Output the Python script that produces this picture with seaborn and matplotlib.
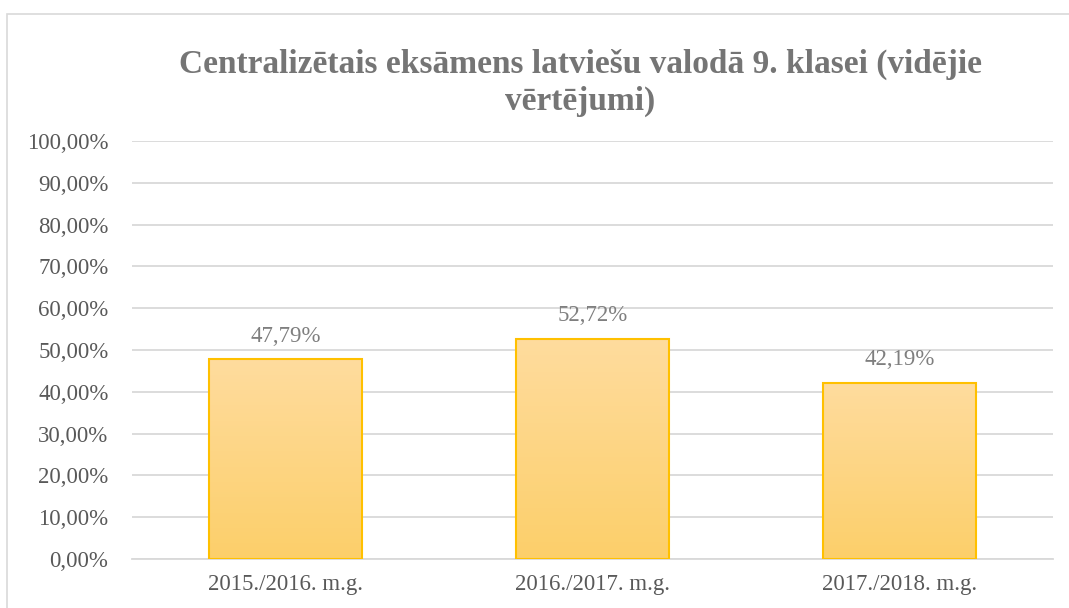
import numpy as np
import pandas as pd
import matplotlib.pyplot as plt
import matplotlib.patches as mpatches
from matplotlib.colors import LinearSegmentedColormap
import seaborn as sns

years = ["2015./2016. m.g.", "2016./2017. m.g.", "2017./2018. m.g."]
scores = [47.79, 52.72, 42.19]
labels = ["47,79%", "52,72%", "42,19%"]
yticks = [0, 10, 20, 30, 40, 50, 60, 70, 80, 90, 100]
title = "Centraliz\u0113tais eks\u0101mens latvie\u0161u valod\u0101 9. klasei (vid\u0113jie\nv\u0113rt\u0113jumi)"

df = pd.DataFrame({"year": years, "score": scores})

sns.set_style("white")
plt.rcParams['font.family'] = ['Liberation Serif', 'DejaVu Serif']

fig = plt.figure(figsize=(10.69, 6.08), dpi=100)
ax = fig.add_axes([132 / 1069, 1 - 559 / 608, (1053 - 132) / 1069, (559 - 141) / 608])

# chart border like the office frame
fig.patches.append(mpatches.Rectangle((7 / 1069, -0.05), 1.2, 1 - 14 / 608 + 0.05,
                                      transform=fig.transFigure, fill=False,
                                      edgecolor='#d9d9d9', linewidth=1.2))

sns.barplot(data=df, x="year", y="score", color="#fdd57f", edgecolor="#ffc000",
            linewidth=1.5, width=0.5, ax=ax, zorder=3)

# vertical gradient inside each bar
cmap = LinearSegmentedColormap.from_list("gold", ["#fccf6a", "#ffdc9e"])
grad = np.linspace(0, 1, 256).reshape(-1, 1)
for bar in ax.patches:
    x0, y0 = bar.get_x(), bar.get_y()
    w, h = bar.get_width(), bar.get_height()
    im = ax.imshow(grad, cmap=cmap, origin='lower', aspect='auto',
                   extent=[x0, x0 + w, y0, y0 + h], zorder=3.5)
    im.set_clip_path(bar)
    bar.set_facecolor('none')
    bar.set_zorder(4)

for i, (v, t) in enumerate(zip(scores, labels)):
    ax.text(i, v + 3.0, t, ha='center', va='bottom', fontsize=16.5, color='#7f7f7f')

ax.set_xlim(-0.5, 2.5)
ax.set_ylim(0, 100)
ax.set_yticks(yticks)
ax.set_yticklabels([f"{v},00%" for v in yticks])
ax.yaxis.grid(True, color='#d9d9d9', linewidth=1.3, zorder=0)
ax.set_axisbelow(True)
ax.tick_params(axis='both', length=0, labelsize=16.5, labelcolor='#595959')
ax.tick_params(axis='y', pad=17)
ax.tick_params(axis='x', pad=11)
ax.set_xlabel("")
ax.set_ylabel("")
for s in ['top', 'right', 'left']:
    ax.spines[s].set_visible(False)
ax.spines['bottom'].set_color('#d9d9d9')
ax.spines['bottom'].set_linewidth(1.3)

fig.text(0.543, 1 - 83 / 608, title,
         ha='center', va='center', fontsize=24, fontweight='bold', color='#757575',
         family='Liberation Serif', linespacing=1.25)

fig.savefig("out.png", dpi=100, facecolor='white')
